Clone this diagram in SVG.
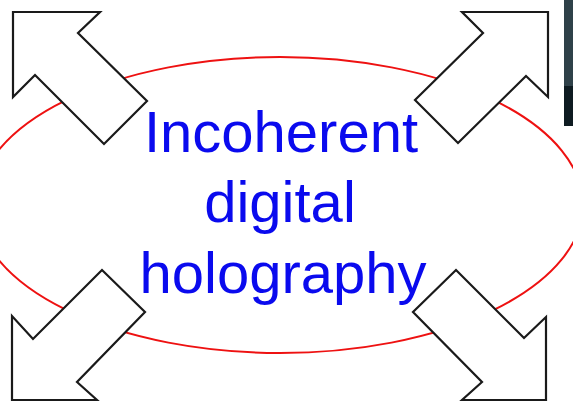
<svg xmlns="http://www.w3.org/2000/svg" width="573" height="401" viewBox="0 0 573 401">
<style>
.arrow{fill:#ffffff;stroke:#1a1a1a;stroke-width:2.2;stroke-linejoin:miter}
.ring{fill:none;stroke:#ee1111;stroke-width:2}
.label{font-family:"Liberation Sans",Arial,sans-serif;font-size:58px;fill:#0a0aee;text-anchor:middle}
</style>
<rect x="0" y="0" width="573" height="401" fill="#ffffff"/>
<g id="edge-panel">
<rect x="564" y="0" width="9" height="86" fill="#2f4149"/>
<rect x="564" y="86" width="9" height="40" fill="#0e1b21"/>
</g>
<g id="ellipse">
<ellipse class="ring" cx="280" cy="205" rx="303" ry="148"/>
</g>
<g id="arrow-top-left">
<polygon class="arrow" points="13,12 100,12 78,33 147,101 104,144 35,75 13,97"/>
</g>
<g id="arrow-top-right">
<polygon class="arrow" points="548,12 462,12 483,33 415,100 458,143 526,76 548,97"/>
</g>
<g id="arrow-bottom-left">
<polygon class="arrow" points="12,400 97,400 77,382 145,312 102,270 33,339 12,316"/>
</g>
<g id="arrow-bottom-right">
<polygon class="arrow" points="546,400 462,400 482,382 413,312 456,270 524,338 546,317"/>
</g>
<g id="title">
<text class="label" x="281" y="152">Incoherent</text>
<text class="label" x="280" y="222">digital</text>
<text class="label" x="283" y="293">holography</text>
</g>
</svg>
